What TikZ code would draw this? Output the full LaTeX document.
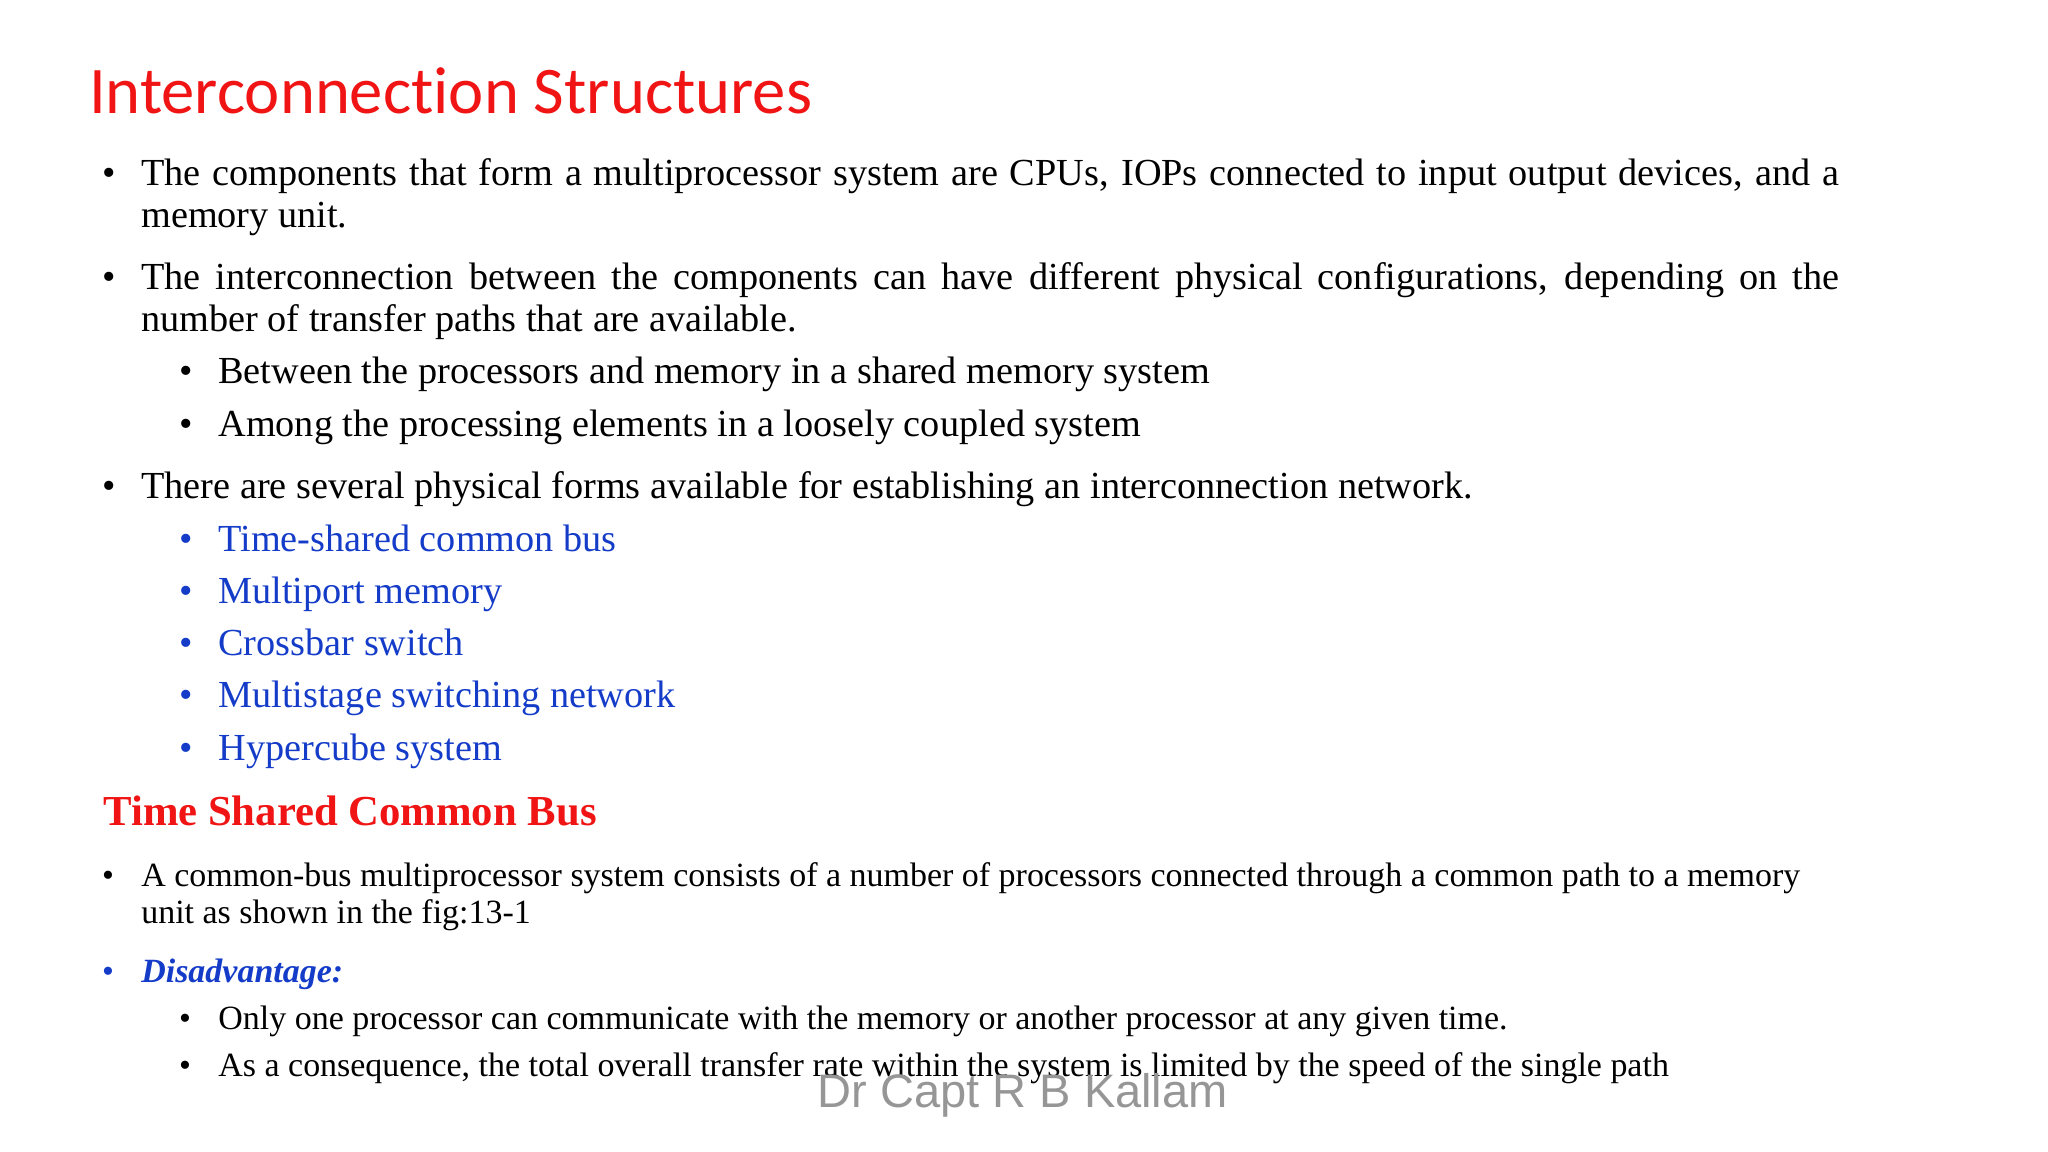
\documentclass[tikz,border=0pt]{standalone}
\usepackage{fontspec}
\setmainfont{Liberation Serif}
\newfontfamily\titlefont[Ligatures={NoCommon,NoRare,NoDiscretionary}]{Carlito}
\newfontfamily\wmfont{Liberation Sans}
\definecolor{tred}{RGB}{240,20,20}
\definecolor{tblue}{RGB}{20,60,200}
\definecolor{wm}{RGB}{150,150,150}
\begin{document}
\begin{tikzpicture}[x=1pt,y=-1pt,
  ln/.style={anchor=base west,inner sep=0pt,font=\fontsize{29.3}{32}\selectfont},
  sm/.style={anchor=base west,inner sep=0pt,font=\fontsize{26}{28}\selectfont}]
\useasboundingbox (0,0) rectangle (1568,882);
\node[anchor=base west,inner sep=0pt,text=tred,font=\titlefont\fontsize{51}{54}\selectfont] (t) at (68,87) {Interconnection Structures};
\node[ln] (b1) at (78,142) {•};
\node[ln] (l1a) at (108,142) {\hbox to 1300pt{The components that form a multiprocessor system are CPUs, IOPs connected to input output devices, and a}};
\node[ln] (l1b) at (108,174) {memory unit.};
\node[ln] (b2) at (78,222) {•};
\node[ln] (l2a) at (108,222) {\hbox to 1300pt{The interconnection between the components can have different physical configurations, depending on the}};
\node[ln] (l2b) at (108,254) {number of transfer paths that are available.};
\node[ln] (b21) at (137,294) {•};
\node[ln] (l21) at (167,294) {Between the processors and memory in a shared memory system};
\node[ln] (b22) at (137,334) {•};
\node[ln] (l22) at (167,334) {Among the processing elements in a loosely coupled system};
\node[ln] (b3) at (78,382) {•};
\node[ln] (l3) at (108,382) {There are several physical forms available for establishing an interconnection network.};
\foreach \y/\t [count=\i] in {422/Time-shared common bus,462/Multiport memory,502/Crossbar switch,542/Multistage switching network,582/Hypercube system}{
  \node[ln,text=tblue] (bb\i) at (137,\y) {•};
  \node[ln,text=tblue] (bl\i) at (167,\y) {\t};
}
\node[anchor=base west,inner sep=0pt,text=tred,font=\fontsize{32.7}{36}\selectfont\bfseries] (h) at (79,632) {Time Shared Common Bus};
\node[sm] (c1) at (78,679) {•};
\node[sm] (c1a) at (108,679) {A common-bus multiprocessor system consists of a number of processors connected through a common path to a memory};
\node[sm] (c1b) at (108,707) {unit as shown in the fig:13-1};
\node[sm,text=tblue] (d) at (78,752) {•};
\node[sm,text=tblue] (dl) at (108,752) {\bfseries\itshape Disadvantage:};
\node[sm] (e1) at (137,788) {•};
\node[sm] (e1l) at (167,788) {Only one processor can communicate with the memory or another processor at any given time.};
\node[sm] (e2) at (137,824) {•};
\node[sm] (e2l) at (167,824) {As a consequence, the total overall transfer rate within the system is limited by the speed of the single path};
\node[anchor=base,inner sep=0pt,text=wm,font=\wmfont\fontsize{36}{40}\selectfont] (w) at (783,848) {Dr Capt R B Kallam};
\end{tikzpicture}
\end{document}
